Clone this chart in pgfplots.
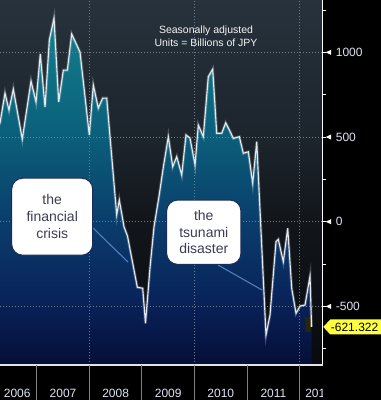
\documentclass[border=0pt]{standalone}
\usepackage{pgfplots}
\pgfplotsset{compat=1.18}
\usepackage{pgfplotstable}
\usepackage{fontspec}
\setmainfont{Liberation Sans}

\definecolor{bgtop}{RGB}{39,50,60}
\definecolor{bgmidA}{RGB}{28,36,44}
\definecolor{bgmidB}{RGB}{18,22,27}
\definecolor{bgbot}{RGB}{8,10,14}
\definecolor{fA}{RGB}{5,14,55}
\definecolor{fB}{RGB}{9,35,90}
\definecolor{fC}{RGB}{10,62,108}
\definecolor{fD}{RGB}{11,95,122}
\definecolor{fE}{RGB}{18,128,142}
\definecolor{gridcol}{RGB}{110,125,140}
\definecolor{labelcol}{RGB}{222,228,245}
\definecolor{linecol}{RGB}{228,234,242}
\definecolor{boxtext}{RGB}{60,60,85}
\definecolor{boxedge}{RGB}{25,45,90}
\definecolor{connector}{RGB}{95,140,205}
\definecolor{lastyellow}{RGB}{255,255,64}
\definecolor{lastolive}{RGB}{38,38,6}

\pgfdeclareverticalshading{bgshade}{100bp}{color(0bp)=(bgbot); color(25bp)=(bgbot); color(44.9bp)=(bgmidB); color(55.8bp)=(bgmidA); color(75bp)=(bgtop); color(100bp)=(bgtop)}
\pgfdeclareverticalshading{areashade}{100bp}{color(0bp)=(fA); color(25bp)=(fA); color(34.4bp)=(fB); color(45.9bp)=(fC); color(58.1bp)=(fD); color(75bp)=(fE); color(100bp)=(fE)}

% x = years after 2000 (e.g. 7.5 = mid 2007); y = billions of JPY
\pgfplotstableread{
x y
6.264 560
6.302 583
6.397 759
6.473 659
6.555 783
6.726 488
6.892 830
6.987 707
7.068 990
7.158 677
7.240 1073
7.329 1202
7.418 707
7.506 895
7.582 895
7.665 1108
7.823 1002
8.000 512
8.076 807
8.171 671
8.255 730
8.331 730
8.521 40
8.570 128
8.660 -30
8.726 -85
8.913 -387
9.015 -393
9.068 -600
9.154 -270
9.230 -30
9.325 150
9.411 330
9.502 502
9.586 325
9.662 384
9.757 276
9.838 512
9.914 494
10.010 335
10.072 571
10.167 502
10.262 856
10.346 901
10.422 522
10.517 522
10.593 584
10.665 540
10.738 492
10.852 502
10.928 404
11.023 413
11.106 227
11.183 472
11.359 -669
11.435 -551
11.549 -118
11.593 -104
11.688 -236
11.772 -39
11.848 -393
11.930 -541
12.006 -498
12.101 -492
12.196 -321
12.225 -621.322
}\tradedata

% same series closed down to the axis floor, for the filled area
\pgfplotstableread{
x y
6.264 -846
6.264 560
6.302 583
6.397 759
6.473 659
6.555 783
6.726 488
6.892 830
6.987 707
7.068 990
7.158 677
7.240 1073
7.329 1202
7.418 707
7.506 895
7.582 895
7.665 1108
7.823 1002
8.000 512
8.076 807
8.171 671
8.255 730
8.331 730
8.521 40
8.570 128
8.660 -30
8.726 -85
8.913 -387
9.015 -393
9.068 -600
9.154 -270
9.230 -30
9.325 150
9.411 330
9.502 502
9.586 325
9.662 384
9.757 276
9.838 512
9.914 494
10.010 335
10.072 571
10.167 502
10.262 856
10.346 901
10.422 522
10.517 522
10.593 584
10.665 540
10.738 492
10.852 502
10.928 404
11.023 413
11.106 227
11.183 472
11.359 -669
11.435 -551
11.549 -118
11.593 -104
11.688 -236
11.772 -39
11.848 -393
11.930 -541
12.006 -498
12.101 -492
12.196 -321
12.225 -621.322
12.225 -846
}\areadata

\tikzset{gridline/.style={gridcol, line width=0.7bp, dash pattern=on 1.4bp off 1.6bp}}

\begin{document}
\begin{tikzpicture}
\fill[black] (0,0) rectangle (381bp,400bp);
\useasboundingbox (0,0) rectangle (381bp,400bp);
\begin{axis}[
  at={(0,35bp)}, anchor=south west,
  scale only axis, width=322.7bp, height=365bp,
  xmin=6.302, xmax=12.437, ymin=-846, ymax=1309,
  axis background/.style={shading=bgshade},
  axis line style={draw=none},
  clip mode=individual,
  xtick={6.63,7.5,8.5,9.5,10.5,11.5,12.36},
  xticklabels={2006,2007,2008,2009,2010,2011,2012},
  xtick style={draw=none},
  xticklabel style={anchor=base, inner sep=0pt, yshift=-29.5bp, text=labelcol, font=\fontsize{12bp}{14bp}\selectfont},
  ytick={-500,0,500,1000},
  yticklabels={-500,0,500,1000},
  minor ytick={-750,-250,250,750,1250},
  ytick pos=right, yticklabel pos=right,
  ytick style={white, line width=0.8bp},
  tick align=outside, major tick length=3bp, minor tick length=3.5bp,
  yticklabel style={anchor=west, inner sep=0pt, xshift=10bp, text=labelcol, font=\fontsize{12bp}{14bp}\selectfont},
]
% area
\addplot[draw=none, shading=areashade] table {\areadata};
% grid
\pgfplotsinvokeforeach{-500,0,500,1000}{\draw[gridline] (axis cs:6.302,#1) -- (axis cs:12.437,#1);}
\pgfplotsinvokeforeach{8,10,12}{\draw[gridline] (axis cs:#1,-846) -- (axis cs:#1,1309);}
% last value highlight
\fill[lastolive] (axis cs:12.095,-565) rectangle (axis cs:12.209,-654);
% line
\addplot[white, opacity=0.22, line width=2.8bp] table {\tradedata};
\addplot[linecol, line width=1.1bp] table {\tradedata};
% axis lines
\draw[white, line width=1.2bp] (axis cs:12.437,1309) -- (axis cs:12.437,-846);
\draw[white!78!gray, line width=1.2bp] (axis cs:6.302,-846) -- (axis cs:12.437,-846);
% anchors for decorations drawn outside the axis
\coordinate (sepA) at (axis cs:7,-846);
\coordinate (sepB) at (axis cs:8,-846);
\coordinate (sepC) at (axis cs:9,-846);
\coordinate (sepD) at (axis cs:10,-846);
\coordinate (sepE) at (axis cs:11,-846);
\coordinate (sepF) at (axis cs:12,-846);
\coordinate (tkA) at (axis cs:12.437,-500);
\coordinate (tkB) at (axis cs:12.437,0);
\coordinate (tkC) at (axis cs:12.437,500);
\coordinate (tkD) at (axis cs:12.437,1000);
\coordinate (lastv) at (axis cs:12.437,-621.322);
\end{axis}
% year separators
\foreach \s in {sepA,sepB,sepC,sepD,sepE,sepF}{\draw[gray, line width=1bp] (\s) -- ++(0bp,-35bp);}
% clip the 2012 label at the plot's right edge
\fill[black] (323.4bp,0) rectangle (381bp,34.3bp);
% tick arrows
\foreach \t in {tkA,tkB,tkC,tkD}{\fill[white] ([xshift=3bp]\t) -- ++(5.5bp,2.6bp) -- ++(0bp,-5.2bp) -- cycle;}
% last value label
\fill[lastyellow] ([xshift=0.6bp]lastv) -- ++(7bp,7.5bp) -- ++(60bp,0bp) -- ++(0bp,-15bp) -- ++(-60bp,0bp) -- cycle;
\node[anchor=west, inner sep=0pt, text=black, font=\fontsize{12bp}{14bp}\selectfont] at ([xshift=8bp]lastv) {-621.322};
% notes
\node[text=white!92!gray, font=\fontsize{10.5bp}{13bp}\selectfont, align=center] at (206bp,363.5bp) {Seasonally adjusted\\Units = Billions of JPY};
% callouts
\draw[connector, line width=1.1bp, opacity=0.85] (93bp,172bp) -- (128bp,138bp);
\draw[connector, line width=1.1bp, opacity=0.85] (218bp,135bp) -- (262bp,110bp);
\node[fill=white, draw=boxedge, line width=1bp, rounded corners=11bp, minimum width=81bp, minimum height=77bp, inner sep=0pt, align=center, text=boxtext, font=\fontsize{14bp}{17bp}\selectfont] at (52.2bp,183.3bp) {the\\financial\\crisis};
\node[fill=white, draw=boxedge, line width=1bp, rounded corners=11bp, minimum width=74.3bp, minimum height=64.3bp, inner sep=0pt, align=center, text=boxtext, font=\fontsize{14bp}{16.7bp}\selectfont] at (203.8bp,167.8bp) {the\\tsunami\\disaster};
\end{tikzpicture}
\end{document}
